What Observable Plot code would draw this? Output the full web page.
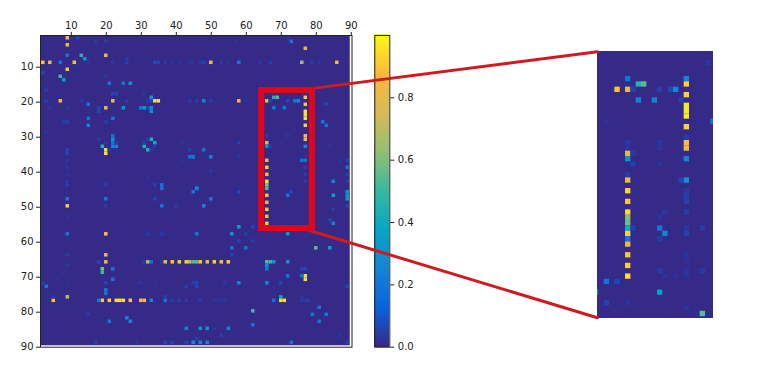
<!DOCTYPE html>
<html>
<head>
<meta charset="utf-8">
<script src="https://cdn.jsdelivr.net/npm/d3@7"></script>
<script src="https://cdn.jsdelivr.net/npm/@observablehq/plot@0.6"></script>
<style>
html,body{margin:0;padding:0;background:#fff}
#stage{position:relative;width:760px;height:366px;overflow:hidden;font-family:"DejaVu Sans",sans-serif}
#stage>div,#stage>svg{position:absolute;left:0;top:0}
</style>
</head>
<body>
<div id="stage"></div>
<script>
const axisTicks = [10,20,30,40,50,60,70,80,90];
const barTicks = [0,0.2,0.4,0.6,0.8];
const stopValues = [0,0.125,0.25,0.375,0.5,0.625,0.75,0.875,1];
const stopColors = ["#352a87","#0b62e0","#1485d4","#06a7c6","#38b99e","#92bf73","#d9ba56","#fcb93a","#f9fb15"];

// [column, row, value]
const upperLeftCells = [
[9,2,.88],[9,4,.8],[12,2,.15],[9,7,.2],[13,7,.45],[14,8,.3],[20,7,.84],[2,9,.9],[4,9,.84],[7,9,.2],[11,9,.88],[9,11,.9],[2,12,.15],
[7,13,.5],[8,14,.35],[17,3,.08],[20,3,.1],[26,8,.1],[26,9,.1],[22,9,.07],[15,9,.05],[34,9,.15],[35,9,.15],[37,9,.08],[39,9,.05],[41,9,.05],[44,9,.05],[45,9,.06],
[3,17,.1],[21,15,.2],[25,15,.2],[27,15,.3],[20,13,.07],[22,18,.15],[23,18,.15],[31,18,.07],[33,19,.3],[3,20,.1],[7,20,.85],[13,20,.08],[22,20,.8],[26,20,.1],
[32,20,.08],[33,20,.15],[34,20,.95],[35,20,.95],[44,20,.08],[46,20,.1],[15,21,.2],[4,22,.07],[9,22,.07],[18,22,.15],[20,22,.8],[25,22,.3],[30,22,.2],[31,22,.3],
[32,22,.15],[33,22,.3],[33,23,.3],[18,23,.15],[22,25,.2],[15,25,.2],[8,26,.1],[9,26,.1],[15,27,.25],[20,26,.12],[3,29,.05],[22,30,.2],[18,31,.08],[22,31,.3],
[33,31,.45],[32,31,.1],[34,32,.4],[31,33,.45],[32,34,.45],[34,33,.1],[33,34,.1],[31,32,.1],[19,33,.45],[20,32,.1],[22,33,.25],[23,33,.25],[22,32,.2],[23,32,.1],
[20,34,.96],[20,35,.96],[21,34,.1],[9,34,.15],[9,35,.15],[9,37,.08],[9,39,.06],[9,41,.06],[9,43,.1],[9,44,.1],[44,34,.15],[44,36,.2],[45,36,.2],[42,32,.05],[42,37,.05],
[36,44,.2],[36,45,.2],[34,44,.12],[20,44,.1],[46,45,.25],[32,42,.04]
];
const upperRightCells = [
[73,3,.2],[72,2,.06],[57,3,.05],[77,5,.85],[50,9,.85],[48,9,.15],[47,9,.08],[53,9,.08],[55,9,.05],[58,9,.2],[64,9,.1],[67,9,.12],[76,9,.65],[79,9,.08],[86,9,.85],[81,9,.05],
[48,20,.25],[50,20,.1],[58,20,.85],[60,20,.07],[66,20,.8],[68,19,.45],[69,19,.55],[67,20,.1],[72,20,.15],[74,20,.2],[75,20,.25],[77,19,.9],[77,21,.9],[77,23,.96],[77,24,.96],[77,25,.96],
[77,27,.92],[77,30,.88],[77,31,.85],[77,33,.25],[83,21,.15],[68,22,.2],[71,22,.2],[82,26,.2],[83,27,.2],[72,30,.07],[66,30,.1],[66,32,.75],[66,33,.3],[67,33,.1],[58,32,.1],
[48,34,.2],[45,36,.2],[50,36,.25],[58,36,.07],[66,37,.8],[66,39,.92],[66,41,.88],[66,43,.95],[66,44,.6],[66,45,.55],[76,37,.2],[77,37,.2],[77,39,.1],[77,41,.1],[77,43,.08],
[89,37,.15],[89,39,.2],[89,41,.1],[89,43,.1],[85,43,.25],[46,45,.25],[50,40,.07],[87,37,.05],[84,33,.04]
];
const lowerLeftCells = [
[9,50,.92],[9,48,.2],[9,53,.06],[9,58,.2],[20,48,.2],[20,50,.1],[20,58,.9],[20,64,.85],[20,66,.8],[18,66,.15],[19,68,.6],[19,69,.5],[22,68,.2],[22,71,.2],[20,72,.15],[20,74,.2],[20,75,.2],
[2,72,.1],[3,73,.2],[9,64,.08],[9,67,.07],[9,72,.05],[9,76,.7],[5,77,.9],[19,77,.9],[18,77,.2],[21,77,.92],[23,77,.95],[24,77,.95],[25,77,.95],[27,77,.9],[30,77,.88],[31,77,.88],
[33,77,.25],[37,77,.2],[37,76,.12],[39,77,.1],[41,77,.1],[43,77,.1],[32,58,.1],[36,58,.1],[46,58,.2],[34,48,.15],[36,50,.2],[40,50,.08],[45,46,.2],[30,72,.07],[34,72,.05],[43,73,.1],[46,72,.15],
[15,81,.08],[21,83,.2],[26,82,.25],[27,83,.25],[43,85,.25],[17,89,.1],[29,89,.07],[37,89,.15],[39,89,.15],[43,89,.15],[45,89,.2],[46,88,.15],[5,76,.1],[8,69,.06],[8,79,.04],
[31,66,.1],[32,66,.7],[33,66,.2],[36,66,.1],[37,66,.8],[39,66,.9],[41,66,.92],[43,66,.92],[44,66,.7],[45,66,.55],[46,66,.55]
];
const lowerRightCells = [
[58,46,.15],[72,47,.2],[73,46,.15],[50,48,.2],[48,50,.25],[85,47,.35],[89,46,.3],[89,47,.3],[89,48,.3],[85,51,.08],[84,54,.15],[85,55,.25],[89,50,.12],
[66,47,.9],[66,49,.8],[66,51,.9],[66,53,.88],[66,55,.92],[58,56,.35],[62,56,.15],[56,58,.3],[60,58,.12],[72,58,.3],[80,62,.55],[84,62,.35],[56,62,.2],[60,62,.2],[58,60,.15],[62,60,.1],[56,64,.15],
[47,66,.9],[49,66,.8],[51,66,.92],[53,66,.88],[55,66,.92],[66,66,.55],[67,66,.5],[68,66,.3],[72,66,.3],[66,67,.3],[66,68,.2],[76,68,.15],[77,68,.15],[72,70,.2],[77,70,.95],[77,71,.95],[76,70,.2],
[66,72,.25],[58,72,.25],[70,72,.15],[45,72,.1],[46,73,.15],[54,72,.07],[89,73,.15],[70,76,.35],[68,77,.2],[70,77,.95],[71,77,.95],[76,77,.1],[77,77,.1],[78,77,.1],[76,76,.07],[47,77,.1],[51,77,.06],[52,77,.06],[53,77,.06],[54,77,.06],
[62,80,.5],[81,79,.2],[79,81,.2],[83,81,.2],[81,83,.2],[62,84,.2],[47,85,.3],[49,85,.3],[55,85,.25],[53,87,.1],[51,85,.07],[45,89,.25],[47,89,.25],[49,89,.25],[73,89,.2],[89,89,.1],[46,88,.1],[87,87,.07]
];
const insetCells = [
[64,20,.9],[66,20,.82],[67,20,.12],[68,19,.45],[69,19,.55],[66,18,.2],[72,20,.12],[74,20,.15],[75,20,.25],[68,22,.25],[71,22,.25],[76,22,.1],
[77,18,.25],[77,19,.92],[77,21,.92],[77,23,.97],[77,24,.97],[77,25,.97],[77,27,.93],[77,29,.08],[77,30,.88],[77,31,.85],[77,33,.25],[66,30,.08],[66,31,.05],[66,32,.8],[66,33,.3],[67,32,.08],[72,30,.07],[72,31,.06],
[67,34,.1],[66,36,.1],[66,37,.85],[72,34,.05],[77,37,.3],[76,37,.15],[81,15,.07],[82,26,.2],[62,26,.03],
[66,39,.93],[66,41,.9],[66,43,.95],[66,44,.6],[66,45,.58],[66,46,.4],[66,47,.93],[66,48,.2],[66,49,.82],[66,51,.9],[66,53,.92],[66,55,.95],
[77,39,.08],[77,40,.1],[77,41,.12],[77,43,.1],[73,43,.07],[72,44,.05],[67,46,.12],[72,46,.2],[77,46,.07],[80,46,.1],[73,47,.25],[77,47,.12],[72,48,.1],
[77,51,.05],[77,52,.05],[72,54,.08],[77,54,.07],[80,54,.08],[73,55,.04],[75,55,.04],[77,55,.05],[62,56,.2],[64,56,.15],[60,58,.2],[72,58,.35],[62,60,.12],[66,60,.05],[80,62,.55],[77,61,.05],[60,62,.03]
];
// zoom box and connector ends, in main-axis units (the connectors run out to the inset)
const zoomBox = [{x1:64.4,x2:78.9,y1:16.65,y2:56.1}];
const topConnector = [{x:77.9,y:16.2},{x:160.3,y:5.6}];
const bottomConnector = [{x:77.9,y:56.6},{x:160.3,y:81.6}];

// the faintest cells were read too high by eye against the bar, so they are scaled down
const toCell = ([c,r,v]) => ({c,r,v: v <= 0.15 ? v * 0.45 : v});
const mainCells = [...upperLeftCells,...upperRightCells,...lowerLeftCells,...lowerRightCells].map(toCell);
const zoomCells = insetCells.map(toCell);
const colorScale = {type:"linear",domain:stopValues,range:stopColors};
const bg = stopColors[0];
const stage = document.getElementById("stage");
const base = {width:760,height:366,style:{background:"transparent",fontFamily:"DejaVu Sans, sans-serif",fontSize:"10px",color:"#222"}};

// colour bar
stage.append(Plot.plot({...base,
  marginLeft:374.3,marginRight:370.7,marginTop:35,marginBottom:19.3,
  x:{domain:[0,1],axis:null},
  y:{domain:[0,1],axis:null},
  color:colorScale,
  marks:[
    Plot.rect(d3.range(0,1,0.004),{x1:0,x2:1,y1:d=>d,y2:d=>d+0.006,fill:d=>d,shapeRendering:"crispEdges"}),
    Plot.frame({stroke:"#222",strokeWidth:1}),
    Plot.axisY(barTicks,{anchor:"right",tickSize:4,tickPadding:4,tickFormat:d3.format(".1f"),label:null,stroke:"#222",fill:"#222"})
  ]
}));

// inset
stage.append(Plot.plot({...base,
  marginLeft:597,marginRight:47,marginTop:51,marginBottom:48,
  x:{domain:[60.24,82],axis:null},
  y:{domain:[12.82,62.85],reverse:true,axis:null},
  color:colorScale,
  marks:[
    Plot.rect([{}],{x1:60.24,x2:82,y1:12.82,y2:62.85,fill:bg}),
    Plot.rect(zoomCells,{x1:d=>d.c-.5,x2:d=>d.c+.5,y1:d=>d.r-.5,y2:d=>d.r+.5,fill:"v",clip:true})
  ]
}));

// main matrix, zoom box and connectors
stage.append(Plot.plot({...base,
  marginLeft:40,marginRight:408.5,marginTop:35,marginBottom:19.3,
  x:{domain:[1.2,90.2],axis:null},
  y:{domain:[0.95,90],reverse:true,axis:null},
  color:colorScale,
  marks:[
    Plot.rect([{}],{x1:1.2,x2:89.7,y1:0.95,y2:89.6,fill:bg}),
    Plot.rect(mainCells,{x1:d=>d.c-.5,x2:d=>d.c+.5,y1:d=>d.r-.75,y2:d=>d.r+.25,fill:"v"}),
    Plot.frame({stroke:"#222",strokeWidth:1}),
    Plot.axisX(axisTicks,{anchor:"top",tickSize:4,tickPadding:3,label:null,stroke:"#222",fill:"#222"}),
    Plot.axisY(axisTicks,{anchor:"left",tickSize:4,tickPadding:3,label:null,stroke:"#222",fill:"#222"}),
    Plot.line(topConnector,{x:"x",y:"y",stroke:"#cf1a20",strokeWidth:3,clip:false}),
    Plot.line(bottomConnector,{x:"x",y:"y",stroke:"#cf1a20",strokeWidth:3,clip:false}),
    Plot.rect(zoomBox,{x1:"x1",x2:"x2",y1:"y1",y2:"y2",fill:"none",stroke:"#e2061c",strokeWidth:6})
  ]
}));
</script>
</body>
</html>
